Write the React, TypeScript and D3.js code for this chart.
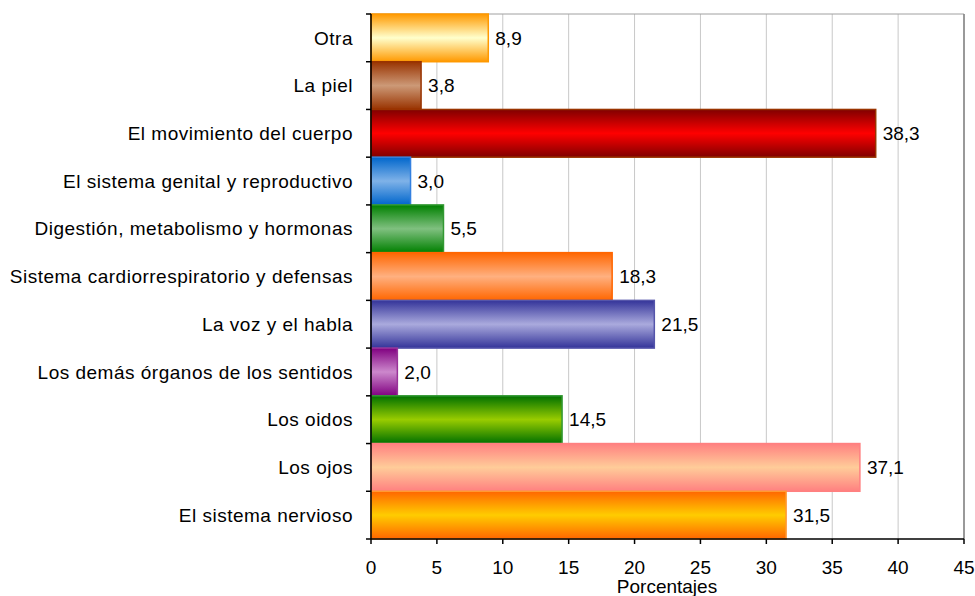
import React from "react";
import * as d3 from "d3";

const categories = [
  "Otra",
  "La piel",
  "El movimiento del cuerpo",
  "El sistema genital y reproductivo",
  "Digestión, metabolismo y hormonas",
  "Sistema cardiorrespiratorio y defensas",
  "La voz y el habla",
  "Los demás órganos de los sentidos",
  "Los oidos",
  "Los ojos",
  "El sistema nervioso",
];
const values = [8.9, 3.8, 38.3, 3.0, 5.5, 18.3, 21.5, 2.0, 14.5, 37.1, 31.5];
const edgeColors = ["#FF9900", "#993300", "#800000", "#0066CC", "#008000", "#FF6600", "#333399", "#800080", "#007000", "#FF8080", "#FF6600"];
const centerColors = ["#FFFFCC", "#CC9977", "#FF0000", "#7FB2E8", "#80C080", "#FFB080", "#AAAADD", "#CC88CC", "#99CC00", "#FFCC99", "#FFCC00"];
const borderColors = ["#FF9900", "#993300", "#993300", "#3380E0", "#339933", "#FF6600", "#5555AA", "#993399", "#339933", "#FF8080", "#FF9933"];
const xTicks = [0, 5, 10, 15, 20, 25, 30, 35, 40, 45];
const xTitle = "Porcentajes";

export default function App() {
  const W = 975, H = 596;
  const left = 371, right = 964, top = 14, bottom = 539;
  const x = d3.scaleLinear().domain([0, 45]).range([left, right]);
  const y = d3.scaleBand<string>().domain(categories).range([top, bottom]).padding(0);
  const font = "'Liberation Sans', Arial, sans-serif";
  const fs = 19;
  const fmt = (v: number) => v.toFixed(1).replace(".", ",");
  return (
    <svg width={W} height={H} style={{ position: "absolute", left: 0, top: 0, background: "#fff" }}>
      <defs>
        {categories.map((c, i) => (
          <linearGradient key={c} id={`g${i}`} x1="0" y1="0" x2="0" y2="1">
            <stop offset="0%" stopColor={edgeColors[i]} />
            <stop offset="50%" stopColor={centerColors[i]} />
            <stop offset="100%" stopColor={edgeColors[i]} />
          </linearGradient>
        ))}
      </defs>
      {xTicks.slice(1).map((t) => (
        <line key={t} x1={x(t)} x2={x(t)} y1={top} y2={bottom} stroke="#C8C8C8" strokeWidth={1} />
      ))}
      <line x1={left} x2={right} y1={top} y2={top} stroke="#A0A0A0" />
      <line x1={right} x2={right} y1={top} y2={bottom} stroke="#808080" strokeWidth={1.5} />
      {categories.map((c, i) => (
        <g key={c}>
          <rect
            x={x(0)}
            y={y(c)!}
            width={x(values[i]) - x(0)}
            height={y.bandwidth()}
            fill={`url(#g${i})`}
            stroke={borderColors[i]}
            strokeWidth={1.5}
          />
          <text
            x={x(values[i]) + 7}
            y={y(c)! + y.bandwidth() / 2}
            dy="0.35em"
            fontFamily={font}
            fontSize={fs}
            fill="#000"
          >
            {fmt(values[i])}
          </text>
          <text
            x={353}
            y={y(c)! + y.bandwidth() / 2}
            dy="0.35em"
            textAnchor="end"
            fontFamily={font}
            fontSize={fs}
            letterSpacing={0.5}
            fill="#000"
          >
            {c}
          </text>
        </g>
      ))}
      <line x1={left} x2={left} y1={top} y2={bottom} stroke="#000" strokeWidth={1.5} />
      <line x1={left} x2={right} y1={bottom} y2={bottom} stroke="#000" strokeWidth={1.5} />
      {categories.map((c) => (
        <line key={"t" + c} x1={left - 5} x2={left} y1={y(c)!} y2={y(c)!} stroke="#000" strokeWidth={1.5} />
      ))}
      <line x1={left - 5} x2={left} y1={bottom} y2={bottom} stroke="#000" strokeWidth={1.5} />
      {xTicks.map((t) => (
        <g key={"x" + t}>
          <line x1={x(t)} x2={x(t)} y1={bottom} y2={bottom + 5} stroke="#000" strokeWidth={1.5} />
          <text x={x(t)} y={574} textAnchor="middle" fontFamily={font} fontSize={fs} fill="#000">
            {t}
          </text>
        </g>
      ))}
      <text x={667} y={593} textAnchor="middle" fontFamily={font} fontSize={fs} fill="#000">
        {xTitle}
      </text>
    </svg>
  );
}
